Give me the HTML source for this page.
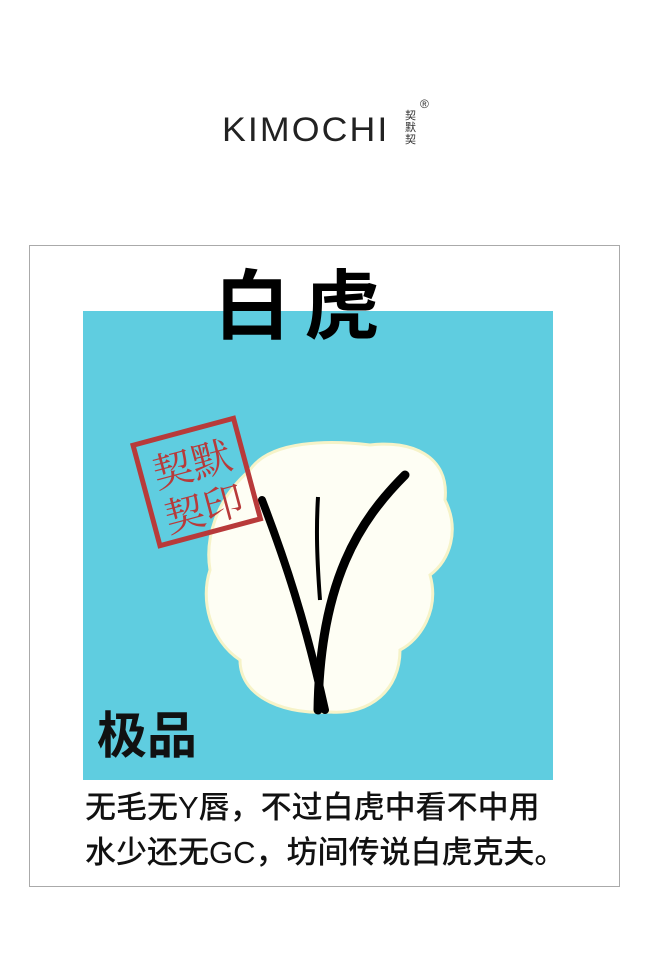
<!DOCTYPE html>
<html><head><meta charset="utf-8">
<style>
body{margin:0;background:#fff;width:645px;height:960px;position:relative;overflow:hidden;font-family:"Liberation Sans","Noto Sans CJK SC",sans-serif}
.abs{position:absolute}
</style></head><body>
<div class="abs" style="left:222px;top:108px;font-size:34px;letter-spacing:2px;color:#222;font-family:'Liberation Sans',sans-serif;line-height:44px;transform:scaleX(1.05);transform-origin:left">KIMOCHI</div>
<div class="abs" style="left:405px;top:110px;font-size:11px;line-height:12px;width:12px;color:#333">契<br>默<br>契</div>
<div class="abs" style="left:420px;top:97px;font-size:12px;color:#333">®</div>
<div class="abs" style="left:29px;top:245px;width:589px;height:640px;border:1px solid #aaa"></div>
<div class="abs" style="left:83px;top:311px;width:470px;height:469px;background:#5fcde0"></div>
<svg class="abs" style="left:0;top:0" width="645" height="960">
<path d="M250 470 C270 440 330 440 370 445 C410 440 450 455 445 500 C460 530 450 560 430 575 C440 610 420 640 400 650 C400 690 370 715 330 712 C290 715 240 700 240 660 C210 640 200 600 210 570 C205 540 215 500 250 470 Z" fill="#fefef4" stroke="#f6f3c8" stroke-width="3"/>
<path d="M262 500 C285 560 305 620 325 710" stroke="#000" stroke-width="8" fill="none" stroke-linecap="round"/>
<path d="M405 475 C360 520 320 580 318 710" stroke="#000" stroke-width="9" fill="none" stroke-linecap="round"/>
<path d="M318 497 C316 530 317 560 320 600" stroke="#000" stroke-width="4" fill="none"/>
<g transform="rotate(-15 197 483)">
<rect x="145" y="430" width="104" height="104" fill="none" stroke="#b83a3a" stroke-width="5"/>
<text x="197" y="478" text-anchor="middle" font-size="40" fill="#b83a3a" font-family="'Noto Serif CJK SC',serif">契默</text>
<text x="197" y="524" text-anchor="middle" font-size="40" fill="#b83a3a" font-family="'Noto Serif CJK SC',serif">契印</text>
</g>
</svg>
<div class="abs" style="left:214px;top:263px;font-size:76px;font-weight:bold;color:#000;line-height:90px;letter-spacing:14px">白虎</div>
<div class="abs" style="left:97px;top:705px;font-size:50px;font-weight:bold;color:#111;line-height:62px">极品</div>
<div class="abs" style="left:85px;top:788px;font-size:31px;font-weight:500;color:#111;line-height:40px;white-space:nowrap">无毛无Y唇，不过白虎中看不中用</div>
<div class="abs" style="left:85px;top:833px;font-size:31px;font-weight:500;color:#111;line-height:40px;white-space:nowrap">水少还无GC，坊间传说白虎克夫。</div>
</body></html>
